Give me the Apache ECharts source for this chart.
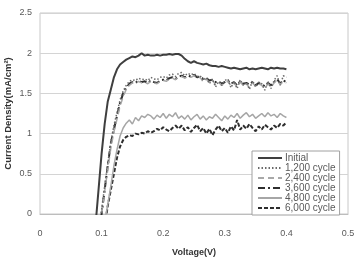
<!DOCTYPE html>
<html><head><meta charset="utf-8">
<script src="https://cdn.jsdelivr.net/npm/echarts@6/dist/echarts.min.js"></script>
<style>html,body{margin:0;padding:0;background:#fff}#c{width:356px;height:258px}</style>
</head><body><div id="c"></div>
<script>
var voltage = [0.09,0.095,0.10,0.105,0.11,0.115,0.12,0.125,0.13,0.135,0.14,0.145,0.15,0.155,0.16,0.165,0.17,0.175,0.18,0.185,0.19,0.195,0.20,0.205,0.21,0.215,0.22,0.225,0.23,0.235,0.24,0.245,0.25,0.255,0.26,0.265,0.27,0.275,0.28,0.285,0.29,0.295,0.30,0.305,0.31,0.315,0.32,0.325,0.33,0.335,0.34,0.345,0.35,0.355,0.36,0.365,0.37,0.375,0.38,0.385,0.39,0.395,0.40];
var seriesNames = ['Initial','1,200 cycle','2,400 cycle','3,600 cycle','4,800 cycle','6,000 cycle'];
var initial = [-0.15,0.3,0.75,1.12,1.4,1.55,1.7,1.8,1.86,1.89,1.92,1.94,1.96,1.95,1.97,2.0,1.97,1.98,1.97,1.97,1.98,1.97,1.98,1.98,1.99,1.98,1.99,1.99,1.97,1.93,1.9,1.88,1.9,1.88,1.87,1.86,1.87,1.85,1.84,1.84,1.83,1.84,1.83,1.82,1.81,1.82,1.81,1.80,1.81,1.82,1.80,1.81,1.80,1.81,1.82,1.81,1.80,1.82,1.81,1.82,1.81,1.81,1.80];
var cycle1200 = [-0.55,-0.25,0.05,0.35,0.62,0.9,1.1,1.26,1.42,1.53,1.6,1.65,1.67,1.66,1.69,1.67,1.68,1.66,1.70,1.68,1.67,1.70,1.71,1.69,1.73,1.74,1.71,1.75,1.76,1.72,1.75,1.73,1.75,1.71,1.72,1.66,1.70,1.62,1.68,1.58,1.65,1.60,1.66,1.68,1.57,1.65,1.56,1.67,1.60,1.64,1.55,1.66,1.58,1.64,1.62,1.54,1.65,1.56,1.66,1.72,1.60,1.72,1.70];
var cycle2400 = [-0.6,-0.3,0.0,0.28,0.55,0.82,1.02,1.18,1.34,1.46,1.55,1.6,1.63,1.62,1.65,1.63,1.64,1.62,1.65,1.63,1.62,1.65,1.66,1.65,1.68,1.69,1.67,1.70,1.71,1.69,1.71,1.70,1.72,1.69,1.70,1.64,1.68,1.63,1.66,1.61,1.64,1.60,1.63,1.65,1.59,1.63,1.58,1.64,1.60,1.62,1.57,1.63,1.59,1.62,1.60,1.56,1.62,1.58,1.63,1.67,1.61,1.65,1.63];
var cycle3600 = [-0.6,-0.3,0.0,0.3,0.6,0.88,1.05,1.22,1.38,1.5,1.57,1.62,1.64,1.63,1.66,1.64,1.65,1.63,1.66,1.64,1.63,1.66,1.67,1.66,1.69,1.70,1.68,1.71,1.72,1.70,1.72,1.71,1.73,1.70,1.71,1.68,1.69,1.66,1.67,1.64,1.65,1.62,1.64,1.66,1.62,1.64,1.60,1.65,1.62,1.63,1.61,1.64,1.60,1.63,1.61,1.59,1.63,1.60,1.64,1.68,1.62,1.66,1.64];
var cycle4800 = [-0.9,-0.6,-0.35,-0.1,0.12,0.35,0.6,0.8,0.97,1.07,1.13,1.17,1.12,1.2,1.16,1.22,1.2,1.24,1.22,1.18,1.23,1.2,1.25,1.19,1.24,1.21,1.26,1.19,1.22,1.18,1.23,1.17,1.21,1.24,1.18,1.22,1.17,1.21,1.19,1.24,1.2,1.16,1.22,1.18,1.23,1.2,1.25,1.19,1.23,1.26,1.21,1.24,1.19,1.22,1.25,1.21,1.26,1.22,1.24,1.2,1.25,1.22,1.2];
var cycle6000 = [-0.8,-0.55,-0.35,-0.15,0.1,0.3,0.5,0.7,0.84,0.92,0.96,0.98,0.97,1.0,0.99,1.01,1.0,1.03,1.01,1.03,1.06,1.04,1.08,1.05,1.03,1.07,1.1,1.06,1.1,1.04,1.08,1.02,1.07,1.11,1.03,1.07,1.0,1.06,0.98,1.05,1.1,1.03,1.07,1.01,1.09,1.04,1.17,1.05,1.1,1.06,1.12,1.07,1.03,1.09,1.05,1.11,1.08,1.05,1.1,1.07,1.12,1.1,1.14];
var xTicks = [0,0.1,0.2,0.3,0.4,0.5];
var yTicks = [0,0.5,1,1.5,2,2.5];

var allValues = [initial,cycle1200,cycle2400,cycle3600,cycle4800,cycle6000];
var styles = [
  {color:'#3f3f3f', width:2, type:'solid'},
  {color:'#6a6a6a', width:1.5, type:[1.5,2]},
  {color:'#a8a8a8', width:1.5, type:[6,4]},
  {color:'#2e2e2e', width:2, type:[7,3,2,3]},
  {color:'#a6a6a6', width:1.5, type:'solid'},
  {color:'#2e2e2e', width:2, type:[4,2]}
];
function pairs(v){ return voltage.map(function(x,i){ return [x, v[i]]; }); }
var series = seriesNames.map(function(n,k){
  return {name:n, type:'line', data:pairs(allValues[k]), showSymbol:false, symbol:'none',
    clip:true, lineStyle:styles[k], itemStyle:{color:styles[k].color}, z:10-k, animation:false};
});
var chart = echarts.init(document.getElementById('c'));
chart.setOption({
  animation:false,
  backgroundColor:'#fff',
  grid:{left:40,right:8,top:13,bottom:44,show:true,borderColor:'#c8c8c8',borderWidth:1,
    containLabel:false,outerBoundsMode:'none'},
  xAxis:{type:'value',min:xTicks[0],max:xTicks[xTicks.length-1],interval:0.1,
    axisLine:{show:true,lineStyle:{color:'#bdbdbd'}},axisTick:{show:false},
    splitLine:{show:false},
    axisLabel:{color:'#595959',fontSize:9,margin:15,fontFamily:'Liberation Sans',formatter:function(v){return String(+v.toFixed(1));}},
    name:'Voltage(V)',nameLocation:'middle',nameGap:34,nameMoveOverlap:false,
    nameTextStyle:{color:'#333',fontWeight:'bold',fontSize:9,fontFamily:'Liberation Sans'}},
  yAxis:{type:'value',min:yTicks[0],max:yTicks[yTicks.length-1],interval:0.5,
    axisLine:{show:false},axisTick:{show:false},
    splitLine:{show:true,lineStyle:{color:'#d4d4d4',width:1}},
    axisLabel:{color:'#595959',fontSize:9,margin:8,fontFamily:'Liberation Sans'},
    name:'Current Density(mA/cm\u00B2)',nameLocation:'middle',nameGap:27,nameMoveOverlap:false,
    nameTextStyle:{color:'#333',fontWeight:'bold',fontSize:9.5,fontFamily:'Liberation Sans'}},
  legend:{orient:'vertical',left:252,top:151,itemWidth:24,itemHeight:8,itemGap:0,
    padding:[2,4,2,5],backgroundColor:'#fff',borderColor:'#a0a0a0',borderWidth:1,
    itemStyle:{opacity:0},
    textStyle:{color:'#595959',fontSize:10,lineHeight:10,fontFamily:'Liberation Sans',padding:[0,0,0,-2]},
    data:seriesNames},
  series:series
});
</script></body></html>
